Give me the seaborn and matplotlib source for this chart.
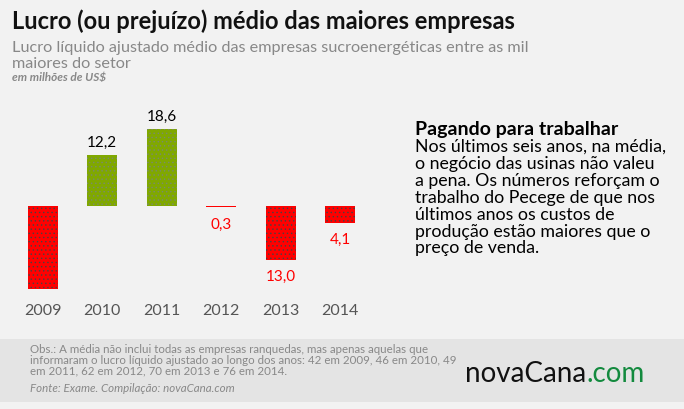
import matplotlib
matplotlib.use("Agg")
import matplotlib.pyplot as plt
import seaborn as sns
import pandas as pd
from matplotlib.patches import Rectangle

years = ["2009", "2010", "2011", "2012", "2013", "2014"]
values = [-20.0, 12.2, 18.6, -0.3, -13.0, -4.1]
labels = ["", "12,2", "18,6", "0,3", "13,0", "4,1"]

sns.set_theme(style="white")
plt.rcParams['font.family'] = ['Lato', 'DejaVu Sans']
plt.rcParams['hatch.linewidth'] = 0.5

BG = "#f2f2f2"
RED = "#ff0000"
GREEN = "#80a800"
W, H = 684, 410
fig = plt.figure(figsize=(6.84, 4.1), dpi=100, facecolor=BG)

df = pd.DataFrame({"year": years, "value": values,
                   "sign": ["neg" if v < 0 else "pos" for v in values]})
ax = fig.add_axes([13 / W, 1 - 300 / H, 357 / W, 180 / H])
ax.set_facecolor(BG)
sns.barplot(data=df, x="year", y="value", hue="sign",
            palette={"neg": RED, "pos": GREEN}, width=0.5, dodge=False,
            legend=False, ax=ax, saturation=1)
for p in ax.patches:
    p.set_hatch("....")
    p.set_edgecolor("#444444" if p.get_height() < 0 else "#7a8a70")
    p.set_linewidth(0)
ax.set_ylim(-22.4, 21)
ax.set_xlim(-0.5, 5.5)
for s in ax.spines.values():
    s.set_visible(False)
ax.set_yticks([])
ax.set_xlabel("")
ax.set_ylabel("")
ax.tick_params(axis="x", length=0, pad=3, labelsize=11.5, labelcolor="#555555")

for i, (v, lab) in enumerate(zip(values, labels)):
    if not lab:
        continue
    if v >= 0:
        ax.text(i, v + 1.5, lab, ha="center", va="bottom", fontsize=11, color="black")
    else:
        ax.text(i, v - 2.2, lab, ha="center", va="top", fontsize=11, color=RED)

fig.text(12 / W, 1 - 21 / H, "Lucro (ou prejuízo) médio das maiores empresas",
         fontsize=17, fontweight="bold", color="#111111", va="center")
fig.text(12 / W, 1 - 56 / H,
         "Lucro líquido ajustado médio das empresas sucroenergéticas entre as mil\nmaiores do setor",
         fontsize=11.7, color="#888888", va="center", linespacing=1.12)
fig.text(12 / W, 1 - 78 / H, "em milhões de US$", fontsize=8.5, color="#888888",
         style="italic", fontweight="bold", va="center")

fig.text(415 / W, 1 - 129 / H, "Pagando para trabalhar", fontsize=14,
         fontweight="bold", color="black", va="center")
fig.text(415 / W, 1 - 139 / H,
         "Nos últimos seis anos, na média,\no negócio das usinas não valeu\na pena. Os números reforçam o\n"
         "trabalho do Pecege de que nos\núltimos anos os custos de\nprodução estão maiores que o\npreço de venda.",
         fontsize=12.8, color="black", va="top", linespacing=1.07)

fig.patches.append(Rectangle((0, 1 - 403 / H), 1, 63 / H, transform=fig.transFigure,
                             facecolor="#e4e4e4", edgecolor="none", zorder=0))
fig.text(30 / W, 1 - 344 / H,
         "Obs.: A média não inclui todas as empresas ranquedas, mas apenas aquelas que\n"
         "informaram o lucro líquido ajustado ao longo dos anos: 42 em 2009, 46 em 2010, 49\n"
         "em 2011, 62 em 2012, 70 em 2013 e 76 em 2014.",
         fontsize=8.3, color="#888888", va="top", linespacing=0.95)
fig.text(30 / W, 1 - 389 / H, "Fonte: Exame. Compilação: novaCana.com",
         fontsize=8.3, color="#888888", style="italic", va="center")

t1 = fig.text(465 / W, 1 - 374 / H, "novaCana", fontsize=20, color="#111111",
              va="center", fontweight="normal")
fig.canvas.draw()
bb = t1.get_window_extent()
fig.text(bb.x1 / W, 1 - 374 / H, ".com", fontsize=20, color="#138a3e",
         va="center", fontweight="normal")

fig.savefig("out.png", dpi=100, facecolor=BG)
